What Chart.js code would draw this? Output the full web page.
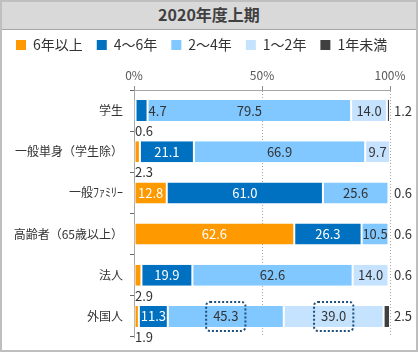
<!DOCTYPE html>
<html lang="ja">
<head>
<meta charset="utf-8">
<script src="https://cdn.jsdelivr.net/npm/chart.js@4.4.1/dist/chart.umd.min.js"></script>
<style>
  html, body { margin: 0; padding: 0; background: #fff; }
  #wrap { position: relative; width: 420px; height: 353px; }
  #title {
    position: absolute; left: 0; top: 0; width: 418px; height: 29px;
    background: #d9d9d9; border-bottom: 1px solid #a6a6a6;
    font: bold 16px "Noto Sans CJK JP", sans-serif; color: #404040;
    text-align: center; line-height: 29px;
  }
  #frame {
    position: absolute; left: 0; top: 0; width: 418px; height: 352px;
    box-sizing: border-box; border: 2px solid #bfbfbf; pointer-events: none;
  }
</style>
</head>
<body>
<div id="wrap">
  <canvas id="tenure" width="420" height="353"></canvas>
  <div id="title">2020年度上期</div>
  <div id="frame"></div>
</div>
<script>
// categories (rows) and the share of each tenure band, in %
const categories = ['学生', '一般単身（学生除）', '一般ﾌｧﾐﾘｰ', '高齢者（65歳以上）', '法人', '外国人'];
const seriesNames = ['6年以上', '4～6年', '2～4年', '1～2年', '1年未満'];
const over6 = [0.6, 2.3, 12.8, 62.6, 2.9, 1.9];
const from4to6 = [4.7, 21.1, 61.0, 26.3, 19.9, 11.3];
const from2to4 = [79.5, 66.9, 25.6, 10.5, 62.6, 45.3];
const from1to2 = [14.0, 9.7, 0.6, 0.6, 14.0, 39.0];
const under1 = [1.2, 0, 0, 0, 0.6, 2.5];
const xTicks = [0, 50, 100];
// [category index, series index] of the labels circled with a dotted box
const highlighted = [[5, 2], [5, 3]];

const colors = ['#ff9900', '#0070c0', '#80c8ff', '#c5e3ff', '#404040'];
const FONT = '"Noto Sans CJK JP", sans-serif';

// value labels: inside the segment, or outside when the segment is too thin
const valueLabels = {
    id: 'valueLabels',
    afterDatasetsDraw(chart) {
        const ctx = chart.ctx;
        const area = chart.chartArea;
        const rowH = (area.bottom - area.top) / categories.length;
        ctx.save();
        ctx.font = '13px ' + FONT;
        ctx.textBaseline = 'middle';
        chart.data.datasets.forEach((ds, i) => {
            chart.getDatasetMeta(i).data.forEach((bar, j) => {
                const v = ds.data[j];
                if (!v) return;
                const txt = v.toFixed(1);
                const tw = ctx.measureText(txt).width;
                let x, y = bar.y, align = 'center', col = '#333';
                if (i === 0 && v < 4) {
                    // tiny first segment: below the bar, at the row boundary
                    x = area.left + 1; y = bar.y + rowH / 2; align = 'left';
                } else if (i >= 3 && v < 4) {
                    // tiny last segment: right of the plot
                    x = area.right + 4; align = 'left';
                } else if (v < 6) {
                    // narrow middle segment: just after it
                    x = bar.x + 1; align = 'left';
                } else {
                    x = (bar.x + bar.base) / 2;
                    if (i < 2) col = '#fff';
                }
                ctx.fillStyle = col;
                ctx.textAlign = align;
                ctx.fillText(txt, x, y);

                if (highlighted.some(h => h[0] === j && h[1] === i)) {
                    const bw = tw + 14, bh = 29;
                    ctx.save();
                    ctx.strokeStyle = '#1f4e79';
                    ctx.lineWidth = 2;
                    ctx.setLineDash([2, 2]);
                    ctx.beginPath();
                    ctx.roundRect(x - bw / 2, y - bh / 2, bw, bh, 4);
                    ctx.stroke();
                    ctx.restore();
                }
            });
        });
        ctx.restore();
    }
};

const whiteBg = {
    id: 'whiteBg',
    beforeDraw(chart) {
        const ctx = chart.ctx;
        ctx.save();
        ctx.fillStyle = '#fff';
        ctx.fillRect(0, 0, chart.width, chart.height);
        ctx.restore();
    }
};

const seriesData = [over6, from4to6, from2to4, from1to2, under1];

let data = {
    labels: categories,
    datasets: seriesNames.map((name, i) => ({
        label: name,
        data: seriesData[i],
        backgroundColor: colors[i],
        borderColor: '#ffffff',
        borderWidth: { left: 1, right: 1, top: 0, bottom: 0 },
        borderSkipped: false,
        barPercentage: 0.51,
        categoryPercentage: 1
    }))
};

let ctx = document.getElementById('tenure').getContext('2d');
let tenureChart = new Chart(ctx, {
    type: 'bar',
    data: data,
    plugins: [whiteBg, valueLabels],
    options: {
        indexAxis: 'y',
        responsive: false,
        animation: false,
        devicePixelRatio: 1,
        layout: { padding: { top: 24, left: 2, right: 4, bottom: 16 } },
        plugins: {
            title: { display: false },
            tooltip: { enabled: false },
            legend: {
                display: true,
                position: 'top',
                align: 'start',
                labels: {
                    boxWidth: 10,
                    boxHeight: 10,
                    padding: 14,
                    color: '#333',
                    font: { family: FONT, size: 14 },
                    generateLabels: c => Chart.defaults.plugins.legend.labels.generateLabels(c)
                        .map(l => Object.assign(l, { lineWidth: 0 }))
                }
            }
        },
        scales: {
            x: {
                position: 'top',
                stacked: true,
                min: 0,
                max: 100,
                afterFit: s => { s.height = 28; },
                afterBuildTicks: s => { s.ticks = xTicks.map(v => ({ value: v })); },
                ticks: {
                    padding: 3,
                    color: '#595959',
                    font: { family: FONT, size: 12 },
                    callback: v => v + '%'
                },
                grid: { color: '#a6a6a6', tickLength: 4, tickColor: '#8c8c8c' },
                border: { color: '#a6a6a6', dash: [1, 2] }
            },
            y: {
                stacked: true,
                afterFit: s => { s.width = 132; },
                ticks: {
                    padding: 7,
                    color: '#333',
                    font: { family: FONT, size: 12 }
                },
                grid: { offset: true, drawOnChartArea: false, tickLength: 4, color: '#666666' },
                border: { color: '#a6a6a6' }
            },
            // empty right-hand axis: keeps room for the outside labels
            yRight: {
                type: 'category',
                position: 'right',
                afterFit: s => { s.width = 26; },
                ticks: { display: false },
                grid: { display: false },
                border: { display: false }
            }
        }
    }
});
</script>
</body>
</html>
